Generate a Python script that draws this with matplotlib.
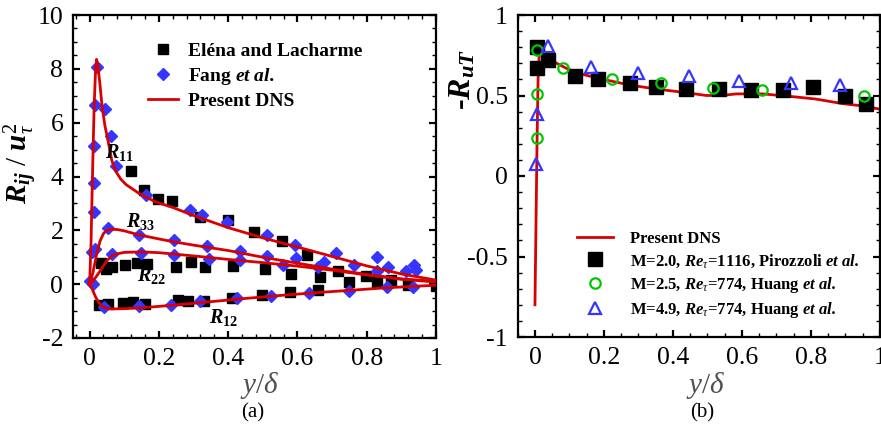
import matplotlib
matplotlib.use('Agg')
import matplotlib.pyplot as plt
from matplotlib.ticker import MultipleLocator, FixedLocator, FixedFormatter

plt.rcParams['font.family'] = ['Liberation Serif', 'DejaVu Serif']
plt.rcParams['mathtext.fontset'] = 'custom'
plt.rcParams['mathtext.rm'] = 'Liberation Serif'
plt.rcParams['mathtext.it'] = 'Liberation Serif:italic'
plt.rcParams['mathtext.bf'] = 'Liberation Serif:bold'
plt.rcParams['mathtext.bfit'] = 'Liberation Serif:bold:italic'
plt.rcParams['axes.unicode_minus'] = False

# ---------------- Panel (a) data ----------------
dns_R11_x = [0, 0.004, 0.008, 0.013, 0.017, 0.02, 0.024, 0.03, 0.036, 0.044, 0.052, 0.064, 0.075,
             0.09, 0.105, 0.143, 0.19, 0.24, 0.3, 0.4, 0.5, 0.6, 0.7, 0.8, 0.9, 1.0]
dns_R11_y = [0, 1.5, 3.9, 6.6, 7.9, 8.35, 8.1, 7.4, 6.6, 5.9, 5.4, 4.6, 4.2,
             3.9, 3.7, 3.37, 3.06, 2.85, 2.55, 2.1, 1.72, 1.38, 1.03, 0.68, 0.38, 0.15]
dns_R33_x = [0, 0.01, 0.02, 0.03, 0.04, 0.05, 0.062, 0.08, 0.1, 0.143, 0.2, 0.24, 0.3, 0.4, 0.5,
             0.6, 0.7, 0.8, 0.9, 1.0]
dns_R33_y = [0, 0.45, 1.1, 1.6, 1.88, 2.0, 2.04, 2.03, 1.98, 1.83, 1.68, 1.58, 1.45, 1.25, 1.0,
             0.78, 0.56, 0.36, 0.2, 0.1]
dns_R22_x = [0, 0.01, 0.02, 0.032, 0.05, 0.065, 0.08, 0.1, 0.15, 0.2, 0.3, 0.4, 0.5, 0.6, 0.7,
             0.8, 0.9, 1.0]
dns_R22_y = [0, 0.12, 0.3, 0.52, 0.88, 1.05, 1.13, 1.18, 1.2, 1.17, 1.05, 0.92, 0.8, 0.67, 0.52,
             0.34, 0.18, 0.08]
dns_R12_x = [0, 0.008, 0.017, 0.027, 0.037, 0.05, 0.066, 0.1, 0.15, 0.25, 0.35, 0.45, 0.55, 0.65,
             0.75, 0.85, 0.95, 1.0]
dns_R12_y = [0, -0.2, -0.47, -0.7, -0.84, -0.9, -0.92, -0.91, -0.88, -0.77, -0.65, -0.53, -0.42,
             -0.32, -0.23, -0.14, -0.07, -0.04]

elena_R11_x = [0.12, 0.158, 0.197, 0.239, 0.32, 0.40, 0.476, 0.555, 0.629, 0.718, 0.798, 0.87, 1.0]
elena_R11_y = [4.2, 3.48, 3.17, 3.10, 2.5, 2.40, 1.94, 1.61, 1.08, 0.48, 0.30, 0.15, -0.06]
elena_R22_x = [0.032, 0.046, 0.066, 0.101, 0.138, 0.167, 0.25, 0.292, 0.332, 0.414, 0.505, 0.58,
               0.664, 0.75, 0.83, 0.918]
elena_R22_y = [0.77, 0.58, 0.64, 0.73, 0.80, 0.76, 0.64, 0.83, 0.62, 0.67, 0.56, 0.37,
               0.25, 0.09, 0.09, -0.04]
elena_R12_x = [0.027, 0.054, 0.095, 0.126, 0.16, 0.254, 0.283, 0.33, 0.412, 0.497, 0.578, 0.658]
elena_R12_y = [-0.78, -0.72, -0.69, -0.67, -0.72, -0.57, -0.63, -0.62, -0.53, -0.41, -0.29, -0.21]

fang_R11_x = [0.008, 0.012, 0.012, 0.0135, 0.016, 0.02, 0.045, 0.061, 0.076, 0.163, 0.289, 0.325,
              0.396, 0.511, 0.594, 0.71, 0.83, 0.937]
fang_R11_y = [1.2, 2.68, 3.76, 5.12, 6.67, 8.05, 6.52, 5.5, 4.4, 3.31, 2.75, 2.56,
              2.32, 1.84, 1.47, 1.15, 1.0, 0.7]
fang_R33_x = [0.016, 0.053, 0.142, 0.243, 0.34, 0.433, 0.512, 0.595, 0.677, 0.763, 0.86, 0.942]
fang_R33_y = [1.32, 2.1, 1.82, 1.63, 1.4, 1.25, 1.06, 0.96, 0.83, 0.71, 0.62, 0.52]
fang_R22_x = [0.002, 0.066, 0.147, 0.245, 0.344, 0.435, 0.559, 0.658, 0.83, 0.913]
fang_R22_y = [0.1, 1.12, 1.15, 1.1, 0.93, 0.88, 0.72, 0.64, 0.5, 0.49]
fang_R12_x = [0.011, 0.042, 0.143, 0.234, 0.32, 0.426, 0.523, 0.634, 0.75, 0.858, 0.933]
fang_R12_y = [0.0, -0.84, -0.8, -0.78, -0.62, -0.5, -0.45, -0.33, -0.25, -0.12, -0.12]

# ---------------- Panel (b) data ----------------
dns_ruT_x = [0, 0.003, 0.006, 0.009, 0.012, 0.018, 0.028, 0.04, 0.063, 0.09, 0.121, 0.16, 0.198,
             0.275, 0.352, 0.429, 0.497, 0.54, 0.584, 0.66, 0.737, 0.814, 0.89, 0.95, 1.0]
dns_ruT_y = [-0.8, -0.3, 0.2, 0.6, 0.74, 0.775, 0.76, 0.73, 0.70, 0.67, 0.64, 0.62, 0.60,
             0.565, 0.54, 0.52, 0.50, 0.50, 0.51, 0.51, 0.495, 0.478, 0.45, 0.435, 0.415]
piro_x = [0.007, 0.005, 0.039, 0.115, 0.183, 0.275, 0.35, 0.437, 0.533, 0.626, 0.718, 0.806, 0.90, 0.96]
piro_y = [0.80, 0.67, 0.72, 0.62, 0.60, 0.575, 0.55, 0.54, 0.54, 0.537, 0.537, 0.55, 0.50, 0.45]
huang25_x = [0.005, 0.005, 0.005, 0.081, 0.223, 0.366, 0.515, 0.658, 0.954]
huang25_y = [0.78, 0.51, 0.235, 0.67, 0.60, 0.578, 0.548, 0.537, 0.50]
huang49_x = [0.002, 0.005, 0.039, 0.162, 0.30, 0.447, 0.592, 0.743, 0.885]
huang49_y = [0.077, 0.388, 0.805, 0.68, 0.64, 0.62, 0.59, 0.58, 0.565]

xticks = [0, 0.2, 0.4, 0.6, 0.8, 1.0]
xticklabels = ['0', '0.2', '0.4', '0.6', '0.8', '1']
yticks_a = [-2, 0, 2, 4, 6, 8, 10]
yticklabels_a = ['-2', '0', '2', '4', '6', '8', '10']
yticks_b = [-1, -0.5, 0, 0.5, 1]
yticklabels_b = ['-1', '-0.5', '0', '0.5', '1']

RED = '#d80000'
BLUE = '#3535ff'
GREEN = '#00c800'
W, H = 881, 433

fig = plt.figure(figsize=(W / 100, H / 100), dpi=100)
axa = fig.add_axes([73 / W, (H - 338) / H, 363 / W, 323 / H])
axb = fig.add_axes([517.7 / W, (H - 337) / H, (880 - 517.7) / W, 322 / H])


def style(ax, xminor, yminor):
    for s in ax.spines.values():
        s.set_linewidth(1.6)
    ax.xaxis.set_minor_locator(MultipleLocator(xminor))
    ax.yaxis.set_minor_locator(MultipleLocator(yminor))
    ax.tick_params(which='both', direction='in', top=True, right=True, labelsize=18.5, pad=7)
    ax.tick_params(which='major', length=5, width=1.6)
    ax.tick_params(which='minor', length=2.8, width=1.0)


# ---- panel (a)
ms_sq = 7
ms_d = 5.8
el_x = elena_R11_x + elena_R22_x + elena_R12_x
el_y = elena_R11_y + elena_R22_y + elena_R12_y
fa_x = fang_R11_x + fang_R33_x + fang_R22_x + fang_R12_x
fa_y = fang_R11_y + fang_R33_y + fang_R22_y + fang_R12_y
h_el, = axa.plot(el_x, el_y, ls='none', marker='s', ms=ms_sq, color='black', zorder=3)
h_fa, = axa.plot(fa_x, fa_y, ls='none', marker='D', ms=ms_d, color=BLUE, mec=BLUE, zorder=3)
h_dns = None
for xs, ys in [(dns_R11_x, dns_R11_y), (dns_R33_x, dns_R33_y),
               (dns_R22_x, dns_R22_y), (dns_R12_x, dns_R12_y)]:
    ln, = axa.plot(xs, ys, color=RED, lw=2.0, zorder=4, solid_joinstyle='round')
    if h_dns is None:
        h_dns = ln

axa.set_xlim(-0.048, 1.0)
axa.set_ylim(-2, 10)
axa.xaxis.set_major_locator(FixedLocator(xticks))
axa.xaxis.set_major_formatter(FixedFormatter(xticklabels))
axa.yaxis.set_major_locator(FixedLocator(yticks_a))
axa.yaxis.set_major_formatter(FixedFormatter(yticklabels_a))
style(axa, 0.04, 0.5)

axa.set_ylabel(r'$\mathbfit{R}_{\mathbfit{ij}}\ /\ \mathbfit{u}_{\tau}^{2}$', fontsize=21)
axa.yaxis.set_label_coords(-0.09, 0.54)
axa.set_xlabel(r'$y/\delta$', fontsize=21, color='#505050')
axa.xaxis.set_label_coords(0.515, -0.10)

for txt, x, y in [(r'$\mathbfit{R}_{\mathbf{11}}$', 0.045, 4.68),
                  (r'$\mathbfit{R}_{\mathbf{33}}$', 0.104, 2.12),
                  (r'$\mathbfit{R}_{\mathbf{22}}$', 0.137, 0.12),
                  (r'$\mathbfit{R}_{\mathbf{12}}$', 0.345, -1.45)]:
    axa.text(x, y, txt, fontsize=14.5, ha='left', va='baseline', zorder=5)

axa.legend([h_el, h_fa, h_dns],
           ['El\u00e9na and Lacharme', r'Fang $\mathbfit{et\ al.}$', 'Present DNS'],
           loc='upper left', bbox_to_anchor=(0.207, 0.915), frameon=False,
           prop={'weight': 'bold', 'size': 14}, handlelength=1.55, handletextpad=0.5,
           borderpad=0, borderaxespad=0, labelspacing=0.28, markerscale=1.0)

# ---- panel (b)
axb.plot(dns_ruT_x, dns_ruT_y, color=RED, lw=2.0, zorder=2, label='Present DNS')
axb.plot(piro_x, piro_y, ls='none', marker='s', ms=9.5, color='black', zorder=3,
         label=r'M=2.0, $\mathbfit{Re}_{\tau}$=1116, Pirozzoli $\mathbfit{et\ al.}$')
axb.plot(huang25_x, huang25_y, ls='none', marker='o', ms=7.5, mfc='none', mec=GREEN, mew=1.6,
         zorder=4, label=r'M=2.5, $\mathbfit{Re}_{\tau}$=774, Huang $\mathbfit{et\ al.}$')
axb.plot(huang49_x, huang49_y, ls='none', marker='^', ms=9, mfc='none', mec=BLUE, mew=1.6,
         zorder=4, label=r'M=4.9, $\mathbfit{Re}_{\tau}$=774, Huang $\mathbfit{et\ al.}$')

axb.set_xlim(-0.05, 1.0)
axb.set_ylim(-1, 1)
axb.xaxis.set_major_locator(FixedLocator(xticks))
axb.xaxis.set_major_formatter(FixedFormatter(xticklabels))
axb.yaxis.set_major_locator(FixedLocator(yticks_b))
axb.yaxis.set_major_formatter(FixedFormatter(yticklabels_b))
style(axb, 0.05, 0.1)

axb.set_ylabel(r'-$\mathbfit{R}_{\mathbfit{uT}}$', fontsize=23, fontweight='bold')
axb.yaxis.set_label_coords(-0.112, 0.80)
axb.set_xlabel(r'$y/\delta$', fontsize=21, color='#505050')
axb.xaxis.set_label_coords(0.52, -0.102)

axb.legend(loc='upper left', bbox_to_anchor=(0.164, 0.33), frameon=False,
           prop={'weight': 'bold', 'size': 12}, handlelength=2.15, handletextpad=1.0,
           borderpad=0, borderaxespad=0, labelspacing=0.3)

fig.text(253 / W, 1 - 413 / H, '(a)', fontsize=15, ha='center', va='center')
fig.text(702 / W, 1 - 413 / H, '(b)', fontsize=15, ha='center', va='center')

fig.savefig('out.png', dpi=100)
